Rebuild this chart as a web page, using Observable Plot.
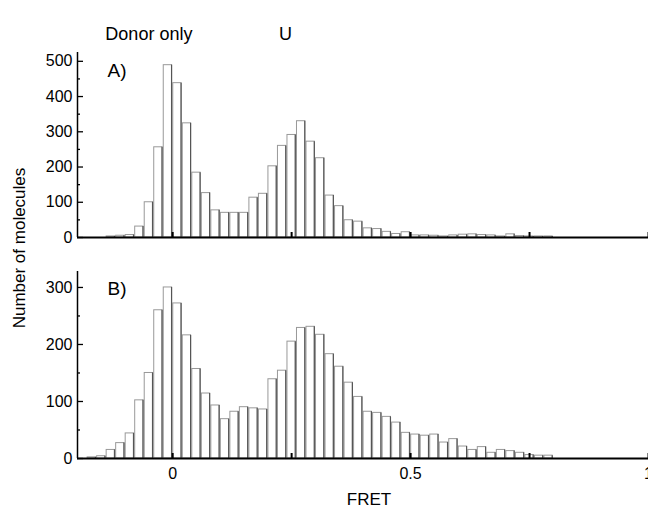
<!DOCTYPE html>
<html>
<head>
<meta charset="utf-8">
<script src="https://cdn.jsdelivr.net/npm/d3@7"></script>
<script src="https://cdn.jsdelivr.net/npm/@observablehq/plot@0.6"></script>
<style>
  html, body { margin: 0; padding: 0; background: white; overflow: hidden; }
  #wrap { position: relative; width: 648px; height: 512px; font-family: "Liberation Sans", Arial, sans-serif; color: black; }
  #wrap svg { position: absolute; left: 0; }
  .lbl { position: absolute; white-space: nowrap; transform: translate(-50%, -50%); }
</style>
</head>
<body>
<div id="wrap"></div>
<script>
// FRET bin starts (bin width 0.02)
const binStarts = [-0.18, -0.16, -0.14, -0.12, -0.10, -0.08, -0.06, -0.04, -0.02, 0.00,
  0.02, 0.04, 0.06, 0.08, 0.10, 0.12, 0.14, 0.16, 0.18, 0.20,
  0.22, 0.24, 0.26, 0.28, 0.30, 0.32, 0.34, 0.36, 0.38, 0.40,
  0.42, 0.44, 0.46, 0.48, 0.50, 0.52, 0.54, 0.56, 0.58, 0.60,
  0.62, 0.64, 0.66, 0.68, 0.70, 0.72, 0.74, 0.76, 0.78];
const binWidth = 0.02;

// Panel A counts
const countsA = [0, 0, 3, 5, 7, 31, 100, 256, 489, 438,
  324, 184, 126, 77, 70, 70, 70, 113, 124, 202,
  260, 291, 330, 272, 225, 119, 89, 49, 45, 26,
  24, 16, 10, 15, 6, 6, 5, 3, 6, 8,
  9, 7, 6, 3, 9, 4, 3, 3, 3];

// Panel B counts
const countsB = [2, 4, 15, 27, 44, 102, 150, 260, 300, 272,
  216, 157, 114, 93, 69, 82, 90, 88, 86, 139,
  154, 205, 229, 231, 217, 183, 161, 133, 108, 82,
  80, 73, 63, 45, 42, 40, 42, 28, 34, 21,
  15, 20, 10, 15, 13, 10, 6, 5, 5];

const xDomain = [-0.2, 1.0];
const xTickValues = [0, 0.25, 0.5, 0.75, 1];
const xTickLabels = [0, 0.5, 1];
const yMajorA = [0, 100, 200, 300, 400, 500];
const yMinorA = [50, 150, 250, 350, 450];
const yMajorB = [0, 100, 200, 300];
const yMinorB = [50, 150, 250];
const annotations = [{label: "Donor only", fret: -0.05}, {label: "U", fret: 0.237}];
const panelLabels = ["A)", "B)"];

const W = 648, ML = 77, MR = 0;
const frameW = W - ML - MR;

function rows(counts) {
  return binStarts.map((x, i) => ({x1: x, x2: x + binWidth, n: counts[i]})).filter(d => d.n > 0);
}

function panel({counts, yMax, yMajor, yMinor, height, mt, mb, label, labelDy, bottomAxis, top}) {
  const frameH = height - mt - mb;
  const data = rows(counts);
  const marks = [
    Plot.rectY(data, {x1: "x1", x2: "x2", y: "n", fill: "white", stroke: "#999", strokeWidth: 1, insetLeft: 0.6, insetRight: 0.6}),
    Plot.ruleX(data, {x: "x2", y1: 0, y2: "n", stroke: "#555", strokeWidth: 1.2, dx: -1.1}),
    Plot.ruleY([0], {stroke: "black", strokeWidth: 2}),
    Plot.ruleX([xDomain[0]], {stroke: "black", strokeWidth: 1.5}),
    Plot.tickY(yMajor, {y: d => d, insetRight: frameW - 6, stroke: "black", strokeWidth: 1.3}),
    Plot.tickY(yMinor, {y: d => d, insetRight: frameW - 3, stroke: "black", strokeWidth: 1.3}),
    Plot.tickX(xTickValues, {x: d => d, insetTop: frameH - 5, stroke: "black", strokeWidth: 2}),
    Plot.axisY({ticks: yMajor, tickSize: 0, tickPadding: 5, fontSize: 16, label: null}),
    Plot.text([label], {frameAnchor: "top-left", dx: 30, dy: labelDy, textAnchor: "start", lineAnchor: "top", fontSize: 19})
  ];
  if (bottomAxis) {
    marks.push(Plot.axisX({ticks: xTickLabels, tickSize: 0, tickPadding: 9, tickFormat: d => String(d), fontSize: 16, label: null}));
  } else {
    marks.push(Plot.text(annotations, {x: "fret", text: "label", frameAnchor: "top", dy: -25, fontSize: 18}));
  }
  const svg = Plot.plot({
    width: W, height, marginLeft: ML, marginRight: MR, marginTop: mt, marginBottom: mb,
    x: {domain: xDomain, axis: bottomAxis ? undefined : null},
    y: {domain: [0, yMax]},
    style: {fontFamily: '"Liberation Sans", Arial, sans-serif', fontSize: "16px", color: "black", background: "transparent", overflow: "visible"},
    marks
  });
  svg.style.top = top + "px";
  return svg;
}

const wrap = document.getElementById("wrap");
wrap.appendChild(panel({counts: countsA, yMax: 525, yMajor: yMajorA, yMinor: yMinorA, height: 245, mt: 52, mb: 8, label: panelLabels[0], labelDy: 11, bottomAxis: false, top: 0}));
wrap.appendChild(panel({counts: countsB, yMax: 328, yMajor: yMajorB, yMinor: yMinorB, height: 267, mt: 26, mb: 54, label: panelLabels[1], labelDy: 10, bottomAxis: true, top: 245}));

const yLab = document.createElement("div");
yLab.className = "lbl";
yLab.textContent = "Number of molecules";
yLab.style.cssText = "left:20px;top:248px;font-size:17px;transform:translate(-50%,-50%) rotate(-90deg);";
wrap.appendChild(yLab);

const xLab = document.createElement("div");
xLab.className = "lbl";
xLab.textContent = "FRET";
xLab.style.cssText = "left:369px;top:500px;font-size:17px;";
wrap.appendChild(xLab);
</script>
</body>
</html>
